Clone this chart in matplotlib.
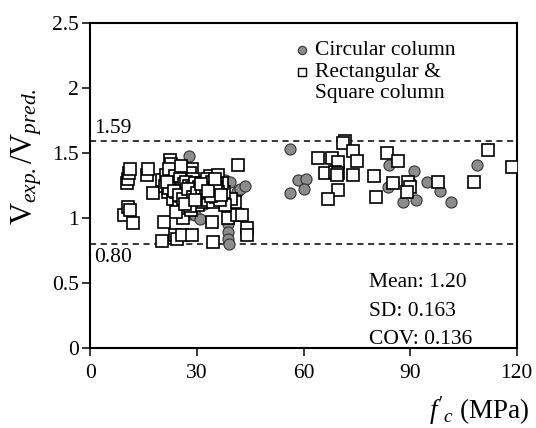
"""Shear strength ratio V_exp./V_pred. against concrete strength f'c."""

import matplotlib
matplotlib.use("Agg")
import matplotlib.pyplot as plt

# circular columns: f'c (MPa), V_exp./V_pred.
circ_fc = [22.5, 23.0, 23.5, 24.0, 24.2, 24.5, 24.8, 25.0, 25.3, 25.6, 26.0,
           26.3, 26.7, 27.0, 27.2, 27.5, 27.7, 28.0, 28.3, 28.6, 29.0, 29.3,
           29.4, 29.6, 30.0, 30.4, 30.8, 31.2, 31.6, 32.0, 32.5, 33.0, 33.5,
           34.0, 34.5, 35.0, 36.0, 37.0, 37.9, 38.8, 38.8, 38.8, 38.9, 39.2,
           41.2, 42.1, 43.5,
           56.2, 56.1, 58.5, 60.7, 60.2, 84.1, 83.8, 85.3, 91.2, 90.0, 88.1,
           91.6, 94.8, 98.4, 101.5, 108.7]
circ_ratio = [1.22, 1.30, 1.17, 1.26, 1.08, 1.12, 1.35, 1.14, 1.21, 1.05, 1.28,
              1.11, 1.19, 1.32, 1.06, 1.24, 1.48, 1.14, 1.03, 1.28, 1.18, 1.09,
              1.02, 1.22, 1.13, 1.26, 0.99, 1.16, 1.21, 1.11, 1.25, 1.15, 1.19,
              1.23, 1.13, 1.17, 1.21, 1.26, 1.29, 0.95, 0.89, 0.84, 0.80, 1.28,
              1.20, 1.22, 1.25,
              1.53, 1.19, 1.29, 1.30, 1.22, 1.41, 1.24, 1.27, 1.36, 1.28, 1.12,
              1.14, 1.28, 1.21, 1.12, 1.41]

# rectangular & square columns
rect_fc = [9.5, 10.2, 10.5, 10.8, 11.1, 10.6, 11.1, 12.0, 15.8, 16.3, 17.7,
           20.0, 20.8, 20.0, 21.0, 21.3, 21.8, 22.4, 22.8, 22.0, 23.8, 24.3,
           25.7, 28.5, 28.5, 28.0, 29.0, 34.6, 34.1, 33.6, 36.0, 38.8, 40.2,
           40.7, 41.2, 41.6, 42.6, 44.0, 44.0, 39.5, 38.0, 37.5, 37.0,
           22.5, 23.0, 23.3, 23.8, 24.2, 24.6, 25.0, 25.2, 25.5, 25.8, 26.0,
           26.3, 26.5, 26.8, 27.0, 27.3, 27.6, 27.8, 28.1, 28.4, 28.7, 29.0,
           29.3, 29.6, 29.9, 30.2, 30.5, 30.8, 31.1, 31.5, 31.8, 32.1, 32.4,
           32.8, 33.1, 33.4, 33.8, 34.2, 34.5, 34.9, 35.2, 35.6, 36.0, 36.5,
           25.4, 27.9, 24.0, 22.0, 21.5, 23.5, 24.8, 26.1, 27.4, 28.8, 30.0,
           31.3, 32.6, 33.9, 35.4, 36.8, 26.6, 29.5, 31.0, 33.0, 35.0,
           71.7, 71.2, 74.0, 74.9, 64.1, 67.9, 69.8, 66.0, 68.8, 69.8, 69.3,
           74.0, 69.8, 67.0, 79.8, 80.3, 83.6, 86.7, 85.3, 89.5, 90.0, 89.0,
           97.9, 108.1, 112.0, 118.8]
rect_ratio = [1.02, 1.27, 1.30, 1.345, 1.375, 1.087, 1.06, 0.96, 1.33, 1.38, 1.19,
              0.82, 0.967, 1.29, 1.25, 1.33, 1.20, 1.45, 1.42, 1.38, 0.87, 0.84,
              0.87, 0.87, 1.38, 1.35, 1.30, 0.817, 0.97, 1.32, 1.33, 1.00, 1.10,
              1.125, 1.02, 1.41, 1.02, 0.92, 0.87, 1.15, 1.10, 1.20, 1.27,
              1.28, 1.24, 1.15, 1.32, 1.20, 1.27, 1.10, 1.30, 1.17, 1.23, 1.00,
              1.26, 1.13, 1.20, 1.28, 1.08, 1.16, 1.25, 1.19, 1.06, 1.23, 1.13,
              1.27, 1.17, 1.21, 1.10, 1.24, 1.15, 1.19, 1.27, 1.12, 1.22, 1.17,
              1.30, 1.14, 1.25, 1.19, 1.28, 1.12, 1.22, 1.16, 1.26, 1.20, 1.14,
              1.40, 1.09, 1.05, 1.23, 1.28, 1.21, 1.18, 1.15, 1.22, 1.16, 1.19,
              1.23, 1.21, 1.17, 1.24, 1.18, 1.11, 1.14, 1.26, 1.21, 1.30,
              1.596, 1.576, 1.52, 1.44, 1.465, 1.46, 1.43, 1.345, 1.357, 1.345, 1.33,
              1.33, 1.216, 1.15, 1.32, 1.16, 1.50, 1.44, 1.27, 1.28, 1.24, 1.20,
              1.275, 1.28, 1.524, 1.395]

upper_bound = 1.59
lower_bound = 0.80
stats_text = ["Mean: 1.20", "SD: 0.163", "COV: 0.136"]
legend_labels = ["Circular column", "Rectangular &", "Square column"]

plt.rcParams["font.family"] = ["Liberation Serif", "DejaVu Serif"]
plt.rcParams["mathtext.fontset"] = "custom"
plt.rcParams["mathtext.rm"] = "Liberation Serif"
plt.rcParams["mathtext.it"] = "Liberation Serif:italic"

fig = plt.figure(figsize=(5.36, 4.28), dpi=100)
ax = fig.add_axes([0.1688, 0.1876, 0.7952, 0.7577])

circ_style = dict(ls="none", marker="o", mfc="#8c8c8c", mec="#333333", mew=0.8)
rect_style = dict(ls="none", marker="s", mfc="white", mec="black", mew=1.2)

ax.plot(circ_fc, circ_ratio, ms=8, zorder=2, **circ_style)
ax.plot(rect_fc, rect_ratio, ms=8.3, zorder=3, **rect_style)

for yb in (upper_bound, lower_bound):
    ax.axhline(yb, color="black", lw=1.1, ls=(0, (4, 3)), zorder=1)
ax.text(1, upper_bound + 0.03, f"{upper_bound:.2f}", fontsize=15.5,
        ha="left", va="bottom")
ax.text(1, lower_bound - 0.03, f"{lower_bound:.2f}", fontsize=15.5,
        ha="left", va="top")

for i, s in enumerate(stats_text):
    ax.text(78.5, 0.50 - 0.22 * i, s, fontsize=15.5, ha="left", va="center")

# legend drawn by hand so the square sits on the first line of its label
ax.plot([0.496], [0.918], ms=6, transform=ax.transAxes, clip_on=False,
        **circ_style)
ax.plot([0.496], [0.850], ms=5.2, transform=ax.transAxes, clip_on=False,
        **{**rect_style, "mew": 1.0})
for s, yy in zip(legend_labels, [0.918, 0.850, 0.785]):
    ax.text(0.527, yy, s, fontsize=15.5, transform=ax.transAxes,
            ha="left", va="center")

ax.set_xlim(0, 120)
ax.set_ylim(0, 2.5)
ax.set_xticks([0, 30, 60, 90, 120])
ax.set_yticks([0, 0.5, 1, 1.5, 2, 2.5])
ax.set_yticklabels(["0", "0.5", "1", "1.5", "2", "2.5"])
ax.tick_params(axis="both", direction="out", length=5.5, width=1.1,
               labelsize=15.5)
ax.tick_params(axis="x", pad=6)
ax.tick_params(axis="y", pad=3)
for sp in ax.spines.values():
    sp.set_linewidth(1.5)

ax.set_xlabel(r"$f'_{c}$ (MPa)", fontsize=19.5, ha="right", va="center")
ax.xaxis.set_label_coords(1.03, -0.195)
ax.set_ylabel(r"$\mathrm{V}_{exp.}/\mathrm{V}_{pred.}$", fontsize=22,
              va="center")
ax.yaxis.set_label_coords(-0.15, 0.588)

fig.savefig("out.png", dpi=100)
